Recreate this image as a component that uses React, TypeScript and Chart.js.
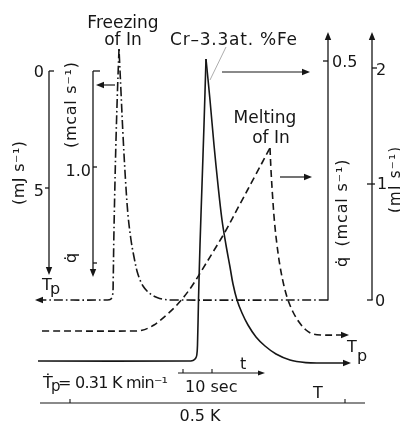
import { useEffect, useRef } from "react";
import { Chart, registerables } from "chart.js";

Chart.register(...registerables);

const FONT = '"DejaVu Sans", "Liberation Sans", sans-serif';
const INK = "#161616";

// Figure units (x: time/temperature sweep, y: heat-flow signal, downward)
// Freezing of In (dash-dot): branch from right baseline up to the peak, then peak down to left baseline
const freezeRiseX = [328, 172, 163, 157, 152, 147, 143, 140, 137, 134, 131, 128, 125.5, 123, 121, 119];
const freezeRiseY = [300, 300, 299.2, 297.5, 295, 291, 286, 280, 271, 257, 240, 215, 180, 135, 92, 49];
const freezeFallX = [119, 117.5, 116, 114.8, 113.8, 113.2, 112.6, 110.5, 106, 40];
const freezeFallY = [49, 90, 140, 190, 240, 280, 295, 299.4, 300, 300];

// Cr-3.3 at.% Fe (solid)
const crRiseX = [38, 188, 193, 195.5, 196.8, 197.5, 198.5, 200, 202, 204, 206];
const crRiseY = [361, 361, 360.4, 358.5, 355, 345, 300, 245, 185, 125, 59];
const crFallX = [206, 210, 214, 218, 222, 226, 230, 233, 237, 242, 248, 256, 265, 276, 290, 306, 320, 345];
const crFallY = [59, 100, 145, 185, 220, 245, 267, 284, 300, 313, 325, 337, 346, 354, 360, 362.6, 363, 363];

// Melting of In (dashed)
const meltRiseX = [42, 135, 142, 148, 154, 160, 167, 175, 183, 192, 202, 213, 225, 240, 255, 270];
const meltRiseY = [331, 331, 330.3, 328.2, 325, 320.5, 314.5, 307, 298, 286, 270, 252, 232, 204, 176, 148];
const meltFallX = [270, 271, 272.5, 274.5, 277, 280, 284, 288, 293, 299, 306, 313, 322, 342];
const meltFallY = [148, 170, 195, 222, 245, 266, 286, 300, 312, 322, 330, 334, 335, 335];

// Axis tick values
const leftMJTicks = [0, 5];
const leftMcalTicks = [0, 1.0, 2.0];
const rightMcalTicks = [0, 0.5];
const rightMJTicks = [0, 1, 2];

const pts = (xs: number[], ys: number[]) => xs.map((x, i) => ({ x, y: ys[i] }));

export default function App() {
  const ref = useRef<HTMLCanvasElement | null>(null);

  useEffect(() => {
    document.body.style.margin = "0";
    const canvas = ref.current!;

    const overlay = {
      id: "overlay",
      beforeDraw(chart: any) {
        const c = chart.ctx;
        c.save();
        c.fillStyle = "#ffffff";
        c.fillRect(0, 0, chart.width, chart.height);
        c.restore();
      },
      afterDatasetsDraw(chart: any) {
        const c: CanvasRenderingContext2D = chart.ctx;
        const sx = chart.scales.x;
        const sy = chart.scales.y;
        const X = (v: number) => sx.getPixelForValue(v);
        const Y = (v: number) => sy.getPixelForValue(v);

        c.save();
        c.strokeStyle = INK;
        c.fillStyle = INK;
        c.lineCap = "butt";

        const line = (x1: number, y1: number, x2: number, y2: number, w = 1.3) => {
          c.lineWidth = w;
          c.beginPath();
          c.moveTo(X(x1), Y(y1));
          c.lineTo(X(x2), Y(y2));
          c.stroke();
        };
        const head = (tx: number, ty: number, ang: number, len = 8, hw = 3.2) => {
          const px = X(tx), py = Y(ty);
          const ca = Math.cos(ang), sa = Math.sin(ang);
          c.beginPath();
          c.moveTo(px, py);
          c.lineTo(px - len * ca - hw * sa, py - len * sa + hw * ca);
          c.lineTo(px - len * ca + hw * sa, py - len * sa - hw * ca);
          c.closePath();
          c.fill();
        };
        const R = 0, L = Math.PI, D = Math.PI / 2, U = -Math.PI / 2;

        // mapping from physical units to figure y
        const yLeftMJ = (v: number) => 71 + v * 23.4;
        const yLeftMcal = (v: number) => 71 + v * 96;
        const yRightMcal = (v: number) => 300 - v * 478;
        const yRightMJ = (v: number) => 300 - v * 116;

        // Left mJ axis
        line(49, 71, 49, 268);
        head(49, 275, D);
        leftMJTicks.forEach((v) => {
          const y = yLeftMJ(v);
          if (v === 0) line(49, y, 54, y);
          else line(45, y, 49, y);
        });
        // Left mcal axis
        line(93, 71, 93, 270);
        head(93, 277, D);
        leftMcalTicks.forEach((v) => {
          const y = yLeftMcal(v);
          if (v === 0) line(93, y, 100, y);
          else line(93, y, 97, y);
        });
        // Right mcal axis
        line(328, 300.6, 328, 40);
        head(328, 32, U);
        rightMcalTicks.forEach((v) => {
          if (v > 0) line(323, yRightMcal(v), 328, yRightMcal(v));
        });
        // Right mJ axis
        line(372, 300, 372, 40);
        head(372, 32, U);
        rightMJTicks.forEach((v) => {
          const y = yRightMJ(v);
          if (v === 0) line(367, y, 372.6, y);
          else if (v === 1) line(367, y, 375, y);
          else line(372, y, 377, y);
        });

        // pointer arrows
        line(115, 85, 102, 85, 1.2);
        head(96, 85, L);
        line(222, 72, 303, 72, 1.2);
        head(310, 72, R);
        line(280, 177, 305, 177, 1.2);
        head(312, 177, R);
        // leader line
        c.save();
        c.strokeStyle = "#8a8a8a";
        line(210, 80, 226, 47, 0.7);
        c.restore();

        // curve end arrowheads
        head(35, 300, L);
        head(349, 335, R);
        head(351, 363, R);

        // time scale
        line(178, 373, 258, 373, 1.1);
        head(265, 373, R, 7, 2.6);
        line(183, 373, 183, 369, 1.1);
        line(212, 373, 212, 369, 1.1);

        // temperature scale
        line(40, 403, 365, 403, 1.1);
        line(70, 403, 70, 399, 1.1);
        line(345, 403, 345, 399, 1.1);

        // ---- text ----
        c.textBaseline = "alphabetic";
        const text = (
          s: string,
          x: number,
          y: number,
          size: number,
          align: "left" | "center" | "right" = "left",
          width?: number,
          rot = 0
        ) => {
          c.save();
          c.font = `${size}px ${FONT}`;
          (c as any).letterSpacing = "0px";
          let w = c.measureText(s).width;
          if (width) {
            const n = Array.from(s).length;
            const ls = (width - w) / Math.max(1, n - 1);
            (c as any).letterSpacing = `${ls}px`;
            w = c.measureText(s).width - ls;
          }
          c.translate(X(x), Y(y));
          if (rot) c.rotate(rot);
          let ox = 0;
          if (align === "center") ox = -w / 2;
          else if (align === "right") ox = -w;
          c.textAlign = "left";
          if (rot) c.textBaseline = "middle";
          c.fillText(s, ox, 0);
          c.restore();
        };

        text("Freezing", 123, 28, 17, "center");
        text("of In", 123, 45, 17, "center");
        text("Cr–3.3at. %Fe", 170, 45, 17, "left", 127);
        text("Melting", 265, 123, 17, "center");
        text("of In", 271, 143, 17, "center");

        // left axis labels
        text("0", 44, 77, 16, "right");
        text("5", 44, 196, 16, "right");
        text("1.0", 91, 176, 16, "right");
        text("(mJ s⁻¹)", 20, 173, 16, "center", 64, -Math.PI / 2);
        text("(mcal s⁻¹)", 72, 105, 16, "center", 86, -Math.PI / 2);
        text("q̇", 72, 258, 16, "center", undefined, -Math.PI / 2);

        // right axis labels
        text("0.5", 332, 67, 16, "left");
        text("2", 376, 75, 16, "left");
        text("1", 377, 189, 16, "left");
        text("0", 375, 306, 16, "left");
        text("(mcal s⁻¹)", 343, 203, 16, "center", 87, -Math.PI / 2);
        text("q̇", 343, 262, 16, "center", undefined, -Math.PI / 2);
        text("(mJ s⁻¹)", 396, 180, 15, "center", 66, -Math.PI / 2);

        // Tp labels
        text("T", 42, 290, 16, "left");
        text("p", 50, 294, 16, "left");
        text("T", 347, 352, 16, "left");
        text("p", 357, 361, 16, "left");

        // bottom labels
        text("Ṫ", 43, 388, 16, "left");
        text("p", 51, 391, 15, "left");
        text("= 0.31 K min⁻¹", 58, 388, 16, "left", 110);
        text("10 sec", 185, 392, 16, "left");
        text("t", 240, 369, 16, "left");
        text("T", 318, 398, 16, "center");
        text("0.5 K", 200, 421, 16, "center");

        c.restore();
      },
    };

    const mk = (xs: number[], ys: number[], dash: number[]) => ({
      data: pts(xs, ys),
      showLine: true,
      borderColor: INK,
      borderWidth: 1.6,
      borderDash: dash,
      pointRadius: 0,
      tension: 0.35,
    });

    const dashDot = [9, 3, 1.6, 3];
    const dashed = [7, 4];

    const chart = new Chart(canvas, {
      type: "scatter",
      data: {
        datasets: [
          mk(freezeRiseX, freezeRiseY, dashDot),
          mk(freezeFallX, freezeFallY, dashDot),
          mk(crRiseX, crRiseY, []),
          mk(crFallX, crFallY, []),
          mk(meltRiseX, meltRiseY, dashed),
          mk(meltFallX, meltFallY, dashed),
        ],
      },
      options: {
        responsive: false,
        animation: false,
        events: [],
        layout: { padding: 0 },
        plugins: { legend: { display: false }, tooltip: { enabled: false } },
        scales: {
          x: { type: "linear", min: 0, max: 400, display: false },
          y: { type: "linear", min: 0, max: 423, reverse: true, display: false },
        },
      },
      plugins: [overlay],
    } as any);

    return () => chart.destroy();
  }, []);

  return (
    <div style={{ position: "absolute", left: 0, top: 0, width: 400, height: 423 }}>
      <canvas ref={ref} width={400} height={423} />
    </div>
  );
}
